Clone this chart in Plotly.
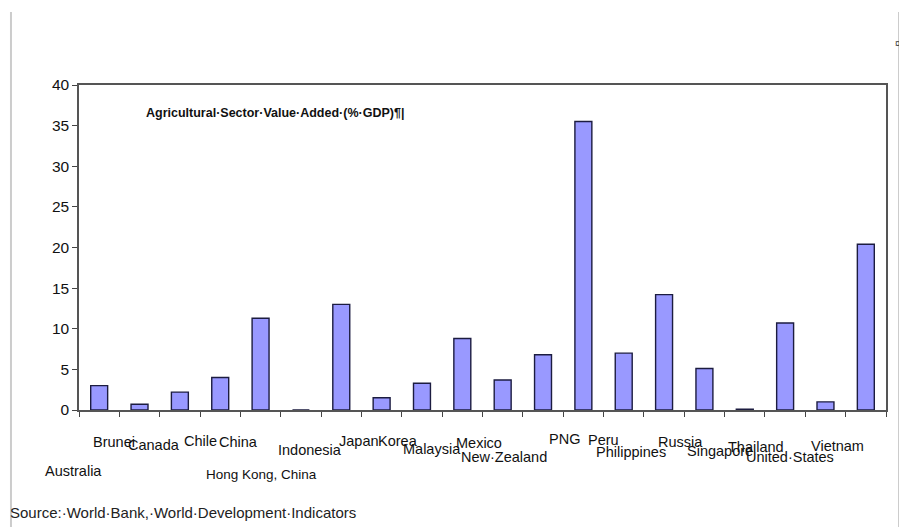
import plotly.graph_objects as go

countries = ['Australia', 'Brunei', 'Canada', 'Chile', 'China', 'Hong Kong, China',
             'Indonesia', 'Japan', 'Korea', 'Malaysia', 'Mexico', 'New·Zealand',
             'PNG', 'Peru', 'Philippines', 'Russia', 'Singapore', 'Thailand',
             'United·States', 'Vietnam']
agri_share = [3.0, 0.7, 2.2, 4.0, 11.3, 0.0, 13.0, 1.5, 3.3, 8.8, 3.7, 6.8,
              35.5, 7.0, 14.2, 5.1, 0.1, 10.7, 1.0, 20.4]
y_ticks = [0, 5, 10, 15, 20, 25, 30, 35, 40]

# label placement, Excel-style staggered (pixel shifts from bar centre / axis)
lab_dx = [-26, -26, -26, -20, -22, -39, -31, -23, -24, -30, -24, -39,
          -19, -20, -33, -24, -25, -29, -35, -28]
lab_dy = [-61, -32, -35, -31, -32, -64, -40, -31, -31, -39, -33, -47,
          -29, -30, -42, -32, -41, -37, -47, -36]

font = 'Liberation Sans, Arial, sans-serif'

fig = go.Figure(go.Bar(
    x=countries, y=agri_share,
    width=0.42,
    marker=dict(color='#9999ff', line=dict(color='#1c1c40', width=1.4)),
))

for c, dx, dy in zip(countries, lab_dx, lab_dy):
    fig.add_annotation(x=c, y=0, xref='x', yref='y', text=c, showarrow=False,
                       xanchor='center', yanchor='middle', xshift=dx, yshift=dy,
                       font=dict(family=font, size=13.5 if c.startswith('Hong') else 14.5,
                                 color='#111'))

fig.add_annotation(x=0.08, y=0.915, xref='paper', yref='paper',
                   text='<b>Agricultural·Sector·Value·Added·(%·GDP)¶|</b>',
                   showarrow=False, xanchor='left', yanchor='middle',
                   font=dict(family=font, size=12.5, color='#111'))

fig.add_annotation(x=-0.088, y=-0.314, xref='paper', yref='paper',
                   text='Source:·World·Bank,·World·Development·Indicators',
                   showarrow=False, xanchor='left', yanchor='middle',
                   font=dict(family=font, size=15, color='#222'))

fig.add_annotation(x=1.021, y=1.15, xref='paper', yref='paper', text='¤',
                   showarrow=False, font=dict(family=font, size=10, color='#333'))

# page borders
for xp in [-0.0843, 1.0161]:
    fig.add_shape(type='line', xref='paper', yref='paper', x0=xp, x1=xp,
                  y0=-0.36, y1=1.225, line=dict(color='#cccccc', width=2))

fig.update_layout(
    width=899, height=519,
    margin=dict(l=71, r=21, t=77, b=117),
    paper_bgcolor='white', plot_bgcolor='white',
    showlegend=False,
    font=dict(family=font, size=13, color='#111'),
)
fig.update_xaxes(type='category', range=[-0.5, 19.5], showticklabels=False,
                 tickson='boundaries', ticks='outside', ticklen=5, tickcolor='#444',
                 showline=True, linecolor='#555', linewidth=1.5, mirror=True,
                 showgrid=False)
fig.update_yaxes(range=[0, 40], tickvals=y_ticks, ticks='outside', ticklen=5,
                 tickcolor='#444', showline=True, linecolor='#555', linewidth=1.5,
                 mirror=True, showgrid=False, zeroline=False,
                 tickfont=dict(size=15.5, color='#111'))

fig.write_html('out.html')
